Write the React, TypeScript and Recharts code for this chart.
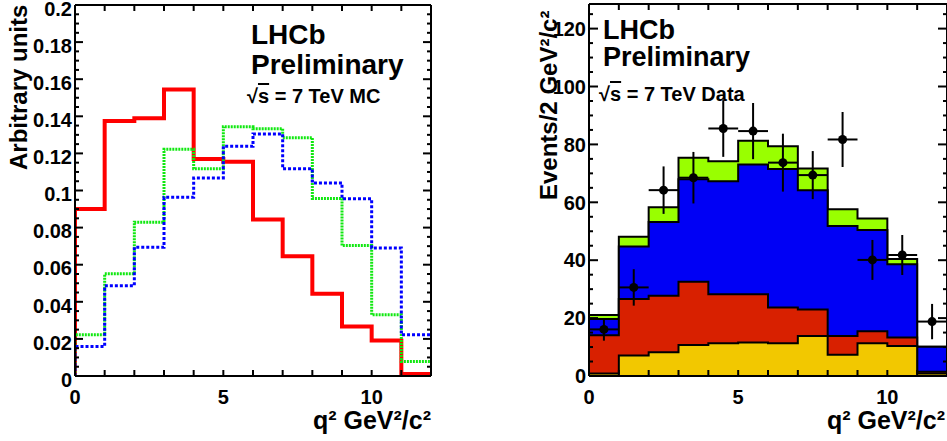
import React from "react";
import { ComposedChart, Line, Area, Scatter, ErrorBar, XAxis, YAxis } from "recharts";

// bin edges of q^2 (GeV^2/c^2), 12 bins of width 1
const binEdges = [0, 1, 2, 3, 4, 5, 6, 7, 8, 9, 10, 11, 12];
const binCentres = [0.5, 1.5, 2.5, 3.5, 4.5, 5.5, 6.5, 7.5, 8.5, 9.5, 10.5, 11.5];

// left panel: MC shapes (arbitrary units)
const redMC = [0.090, 0.1375, 0.139, 0.1545, 0.117, 0.1155, 0.0843, 0.0645, 0.0443, 0.0267, 0.0191, 0.0011];
const greenMC = [0.0222, 0.0551, 0.0829, 0.1222, 0.1117, 0.1344, 0.1333, 0.1285, 0.0957, 0.0703, 0.033, 0.0078];
const blueMC = [0.0159, 0.0486, 0.0694, 0.0964, 0.1068, 0.1239, 0.1305, 0.1117, 0.1041, 0.0955, 0.069, 0.0222];

// right panel: stacked fit components (cumulative tops, events / bin)
const stackTotal = [21.1, 48.1, 58.3, 75.4, 74.2, 81.3, 79.4, 71.7, 57.6, 54.4, 40.4, 10.1];
const stackBlue = [19.7, 44.7, 53.2, 68.0, 67.3, 73.1, 71.5, 64.2, 51.8, 50.4, 38.6, 10.1];
const stackRed = [14.1, 26.6, 27.7, 32.6, 28.2, 28.2, 23.7, 23.0, 13.8, 15.5, 13.3, 1.5];
const stackYellow = [0.9, 7.1, 8.2, 10.7, 11.3, 11.6, 11.3, 13.8, 7.3, 11.3, 10.4, 0.9];

// right panel: data points
const dataEvents = [16.1, 30.6, 64.2, 68.5, 85.5, 84.6, 73.7, 69.4, 81.7, 40.1, 41.8, 18.8];
const dataErrors = [3.9, 6.3, 8.2, 8.9, 9.8, 9.7, 10.0, 8.3, 9.5, 6.9, 6.9, 6.1];

// axis labels
const xTickLabels = [0, 5, 10];
const mcYLabels = [0, 0.02, 0.04, 0.06, 0.08, 0.1, 0.12, 0.14, 0.16, 0.18, 0.2];
const dataYLabels = [0, 20, 40, 60, 80, 100, 120];

const mcYTicks = Array.from({ length: 41 }, (_, i) => Math.round(i * 5) / 1000);
const dataYTicks = Array.from({ length: 26 }, (_, i) => i * 5);

const FONT = '"Liberation Sans", Arial, Helvetica, sans-serif';

const mcRows = [
  { x: 0, red: 0, green: 0, blue: 0 },
  ...binEdges.map((e, i) => {
    const k = Math.min(i, 11);
    return { x: e, red: redMC[k], green: greenMC[k], blue: blueMC[k] };
  }),
];

const stackRows = binEdges.map((e, i) => {
  const k = Math.min(i, 11);
  return { x: e, total: stackTotal[k], blue: stackBlue[k], red: stackRed[k], yellow: stackYellow[k] };
});

const pointRows = binCentres.map((c, i) => ({ x: c, y: dataEvents[i], ex: 0.5, ey: dataErrors[i] }));

type Side = "left" | "right" | "top" | "bottom";

const has = (list: number[] | undefined, v: number) =>
  !!list && list.some((l) => Math.abs(l - v) < 1e-9);

const makeTick =
  (side: Side, majors: number[], majorLen: number, minorLen: number, labels?: number[], dyLabel = 0) =>
  (props: any) => {
    const { x, y, payload } = props;
    const v = payload.value;
    const len = has(majors, v) ? majorLen : minorLen;
    let x2 = x;
    let y2 = y;
    if (side === "left") x2 = x + len;
    if (side === "right") x2 = x - len;
    if (side === "bottom") y2 = y - len;
    if (side === "top") y2 = y + len;
    const showLabel = has(labels, v);
    return (
      <g>
        <line x1={x} y1={y} x2={x2} y2={y2} stroke="#000" strokeWidth={2} />
        {showLabel && side === "left" && (
          <text x={x - 3} y={y + dyLabel} dy="0.36em" textAnchor="end" fontSize={20} fontWeight="bold" fontFamily={FONT} fill="#000">
            {String(Math.round(v * 1000) / 1000)}
          </text>
        )}
        {showLabel && side === "bottom" && (
          <text x={x} y={y + 14} dy="0.71em" textAnchor="middle" fontSize={20} fontWeight="bold" fontFamily={FONT} fill="#000">
            {String(v)}
          </text>
        )}
      </g>
    );
  };

const axisLine = { stroke: "#000", strokeWidth: 2 };

const McPanel = () => (
  <ComposedChart width={440} height={441} data={mcRows} margin={{ top: 5, right: 9, bottom: 0, left: 0 }}>
    <Line type="stepAfter" dataKey="red" stroke="#ff0000" strokeWidth={4} dot={false} activeDot={false} isAnimationActive={false} />
    <Line type="stepAfter" dataKey="green" stroke="#10e810" strokeWidth={3} strokeDasharray="2 1" dot={false} activeDot={false} isAnimationActive={false} />
    <Line type="stepAfter" dataKey="blue" stroke="#0000ff" strokeWidth={3} strokeDasharray="3 2" dot={false} activeDot={false} isAnimationActive={false} />
    <XAxis dataKey="x" type="number" domain={[0, 12]} allowDataOverflow ticks={binEdges} interval={0} height={65}
      tickSize={0} tickMargin={0} tickLine={false} axisLine={axisLine} tick={makeTick("bottom", xTickLabels, 6, 6, xTickLabels)} />
    <XAxis xAxisId="top" orientation="top" mirror dataKey="x" type="number" domain={[0, 12]} allowDataOverflow ticks={binEdges} interval={0}
      tickSize={0} tickMargin={0} tickLine={false} axisLine={axisLine} tick={makeTick("top", xTickLabels, 6, 6)} />
    <YAxis type="number" domain={[0, 0.2]} allowDataOverflow ticks={mcYTicks} interval={0} width={75}
      tickSize={0} tickMargin={0} tickLine={false} axisLine={axisLine} tick={makeTick("left", mcYLabels, 8, 4, mcYLabels, 3.5)} />
    <YAxis yAxisId="right" orientation="right" mirror type="number" domain={[0, 0.2]} allowDataOverflow ticks={mcYTicks} interval={0} width={1}
      tickSize={0} tickMargin={0} tickLine={false} axisLine={axisLine} tick={makeTick("right", mcYLabels, 8, 4)} />
  </ComposedChart>
);

const DataPanel = () => (
  <ComposedChart width={455} height={441} data={stackRows} margin={{ top: 4, right: 8, bottom: 0, left: 0 }}>
    <Area type="stepAfter" dataKey="total" fill="#99ff00" fillOpacity={1} stroke="#000" strokeWidth={2} dot={false} activeDot={false} isAnimationActive={false} />
    <Area type="stepAfter" dataKey="blue" fill="#0000f5" fillOpacity={1} stroke="#000" strokeWidth={2} dot={false} activeDot={false} isAnimationActive={false} />
    <Area type="stepAfter" dataKey="red" fill="#d82000" fillOpacity={1} stroke="#000" strokeWidth={2} dot={false} activeDot={false} isAnimationActive={false} />
    <Area type="stepAfter" dataKey="yellow" fill="#f2c800" fillOpacity={1} stroke="#000" strokeWidth={2} dot={false} activeDot={false} isAnimationActive={false} />
    <Scatter data={pointRows} dataKey="y" fill="#000" isAnimationActive={false}>
      <ErrorBar dataKey="ey" direction="y" width={0} stroke="#000" strokeWidth={2} />
      <ErrorBar dataKey="ex" direction="x" width={0} stroke="#000" strokeWidth={2} />
    </Scatter>
    <XAxis dataKey="x" type="number" domain={[0, 12]} allowDataOverflow ticks={binEdges} interval={0} height={65}
      tickSize={0} tickMargin={0} tickLine={false} axisLine={axisLine} tick={makeTick("bottom", xTickLabels, 6, 6, xTickLabels)} />
    <XAxis xAxisId="top" orientation="top" mirror dataKey="x" type="number" domain={[0, 12]} allowDataOverflow ticks={binEdges} interval={0}
      tickSize={0} tickMargin={0} tickLine={false} axisLine={axisLine} tick={makeTick("top", xTickLabels, 6, 6)} />
    <YAxis type="number" domain={[0, 128.5]} allowDataOverflow ticks={dataYTicks} interval={0} width={89}
      tickSize={0} tickMargin={0} tickLine={false} axisLine={axisLine} tick={makeTick("left", dataYLabels, 9, 4, dataYLabels)} />
    <YAxis yAxisId="right" orientation="right" mirror type="number" domain={[0, 128.5]} allowDataOverflow ticks={dataYTicks} interval={0} width={1}
      tickSize={0} tickMargin={0} tickLine={false} axisLine={axisLine} tick={makeTick("right", dataYLabels, 9, 4)} />
  </ComposedChart>
);

const txt = (extra: React.CSSProperties): React.CSSProperties => ({
  position: "absolute",
  fontFamily: FONT,
  fontWeight: "bold",
  color: "#000",
  whiteSpace: "nowrap",
  ...extra,
});

const Sqrt = () => (
  <>
    <span>√</span>
    <span style={{ textDecoration: "overline" }}>s</span>
  </>
);

export default function App() {
  return (
    <div style={{ position: "absolute", left: 0, top: 0, width: 947, height: 441, overflow: "hidden", background: "#fff", fontFamily: FONT }}>
      <div style={{ position: "absolute", left: 0, top: 0 }}>
        <McPanel />
      </div>
      <div style={{ position: "absolute", left: 500, top: 0 }}>
        <DataPanel />
      </div>

      <div style={txt({ left: 251, top: 21, fontSize: 28, lineHeight: "28px" })}>LHCb</div>
      <div style={txt({ left: 251, top: 51, fontSize: 28, lineHeight: "28px" })}>Preliminary</div>
      <div style={txt({ left: 247, top: 86, fontSize: 20, lineHeight: "20px" })}>
        <Sqrt /> = 7 TeV MC
      </div>
      <div style={txt({ left: 7, top: 170, fontSize: 24, lineHeight: "24px", transform: "rotate(-90deg)", transformOrigin: "left top" })}>
        Arbitrary units
      </div>
      <div style={txt({ left: 200, width: 231, top: 408, fontSize: 25, lineHeight: "25px", textAlign: "right" })}>
        q² GeV²/c²
      </div>

      <div style={txt({ left: 603, top: 17, fontSize: 27, lineHeight: "26px" })}>LHCb</div>
      <div style={txt({ left: 603, top: 44, fontSize: 27, lineHeight: "26px" })}>Preliminary</div>
      <div style={txt({ left: 599, top: 84, fontSize: 20, lineHeight: "20px" })}>
        <Sqrt /> = 7 TeV Data
      </div>
      <div style={txt({ left: 537, top: 200, fontSize: 24, lineHeight: "24px", transform: "rotate(-90deg)", transformOrigin: "left top" })}>
        Events/2 GeV²/c²
      </div>
      <div style={txt({ left: 700, width: 245, top: 408, fontSize: 25, lineHeight: "25px", textAlign: "right" })}>
        q² GeV²/c²
      </div>
    </div>
  );
}
